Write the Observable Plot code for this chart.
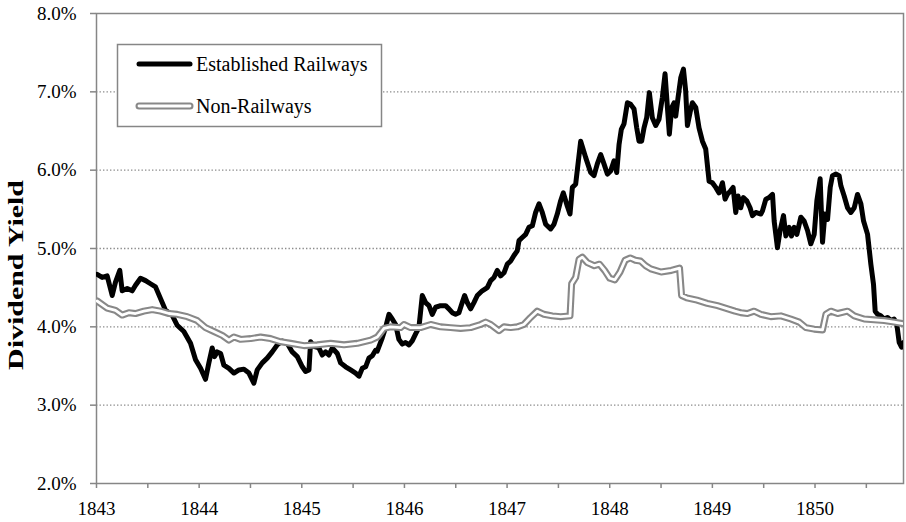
<!DOCTYPE html>
<html>
<head>
<meta charset="utf-8">
<script src="https://cdn.jsdelivr.net/npm/d3@7"></script>
<script src="https://cdn.jsdelivr.net/npm/@observablehq/plot@0.6"></script>
<style>
  html, body { margin: 0; padding: 0; background: white; }
  #chart { position: relative; width: 906px; height: 522px; }
  #chart svg, #chart svg text { font-family: "Liberation Serif", "Times New Roman", Times, serif !important; }
</style>
</head>
<body>
<div id="chart"></div>
<script>
// ---- Data (decimal years, dividend yield in %) ----
const estYears = [
  1843.006,1843.055,1843.104,1843.153,1843.185,1843.227,1843.250,1843.299,1843.348,1843.380,
  1843.429,1843.478,1843.526,1843.575,1843.624,1843.673,1843.737,1843.786,1843.851,1843.916,
  1843.965,1844.014,1844.062,1844.095,1844.127,1844.150,1844.176,1844.209,1844.241,1844.290,
  1844.339,1844.387,1844.436,1844.485,1844.533,1844.566,1844.615,1844.663,1844.712,1844.761,
  1844.810,1844.858,1844.907,1844.956,1845.005,1845.037,1845.070,1845.086,1845.118,1845.167,
  1845.199,1845.232,1845.264,1845.297,1845.346,1845.378,1845.427,1845.476,1845.524,1845.557,
  1845.589,1845.622,1845.654,1845.687,1845.719,
  1845.735,1845.784,1845.816,1845.849,1845.881,1845.914,1845.946,1845.979,1846.011,1846.044,
  1846.076,1846.109,1846.141,1846.174,1846.206,1846.239,1846.271,1846.304,1846.352,1846.401,
  1846.433,1846.466,1846.498,1846.531,1846.563,1846.586,1846.612,1846.645,1846.677,1846.710,
  1846.758,1846.807,1846.840,1846.872,1846.905,1846.937,1846.970,1847.002,1847.035,1847.067,
  1847.099,1847.116,1847.148,1847.181,1847.213,1847.246,1847.278,1847.311,1847.343,1847.376,
  1847.424,1847.457,1847.489,1847.522,1847.548,1847.587,1847.613,
  1847.636,1847.668,1847.717,1847.766,1847.814,1847.847,1847.879,1847.912,1847.944,1847.977,
  1848.009,1848.042,1848.068,1848.091,1848.113,1848.139,1848.172,1848.204,1848.237,1848.263,
  1848.285,1848.311,1848.334,1848.360,1848.386,1848.415,1848.448,1848.480,1848.513,1848.539,
  1848.562,1848.581,1848.604,1848.627,1848.643,1848.666,1848.692,1848.718,1848.740,1848.757,
  1848.783,1848.805,1848.838,1848.870,1848.903,1848.935,1848.968,1849.000,1849.033,1849.065,
  1849.098,1849.124,1849.146,1849.179,1849.202,1849.228,1849.250,1849.276,1849.302,1849.335,
  1849.367,1849.390,1849.423,1849.472,
  1849.488,1849.521,1849.553,1849.586,1849.602,1849.634,1849.660,1849.693,1849.716,1849.748,
  1849.771,1849.797,1849.823,1849.862,1849.894,1849.927,1849.959,1849.992,1850.018,1850.050,
  1850.073,1850.096,1850.122,1850.148,1850.170,1850.203,1850.235,1850.252,1850.284,1850.317,
  1850.349,1850.382,1850.414,1850.447,1850.473,1850.512,1850.544,1850.570,1850.586,1850.609,
  1850.641,1850.674,1850.706,1850.739,1850.771,1850.797,1850.820,1850.843,1850.862
];
const estValues = [
  4.67,4.63,4.65,4.40,4.57,4.72,4.46,4.49,4.46,4.53,
  4.62,4.59,4.55,4.51,4.36,4.21,4.15,4.02,3.94,3.79,
  3.58,3.47,3.33,3.54,3.73,3.62,3.68,3.66,3.51,3.47,
  3.41,3.45,3.46,3.41,3.28,3.45,3.54,3.60,3.68,3.77,
  3.82,3.79,3.68,3.62,3.49,3.43,3.45,3.81,3.75,3.73,
  3.64,3.68,3.64,3.73,3.66,3.54,3.49,3.45,3.41,3.37,
  3.47,3.49,3.60,3.63,3.70,
  3.69,3.86,3.99,4.16,4.10,4.03,3.84,3.78,3.80,3.77,
  3.82,3.91,3.99,4.40,4.31,4.27,4.16,4.25,4.27,4.27,
  4.23,4.18,4.16,4.18,4.31,4.40,4.31,4.23,4.31,4.40,
  4.46,4.50,4.59,4.63,4.72,4.65,4.69,4.80,4.84,4.91,
  4.97,5.10,5.14,5.18,5.27,5.29,5.46,5.57,5.46,5.31,
  5.25,5.31,5.44,5.61,5.71,5.54,5.44,
  5.78,5.82,6.37,6.16,5.97,5.93,6.08,6.20,6.08,5.95,
  5.99,6.12,5.97,6.33,6.52,6.59,6.86,6.84,6.78,6.54,
  6.37,6.37,6.54,6.67,6.99,6.67,6.57,6.65,6.93,7.23,
  6.80,6.46,6.80,6.86,6.69,6.93,7.18,7.29,7.01,6.57,
  6.74,6.86,6.80,6.54,6.37,6.27,5.86,5.84,5.78,5.71,
  5.84,5.63,5.69,5.74,5.78,5.46,5.67,5.52,5.65,5.61,
  5.52,5.42,5.46,5.44,
  5.48,5.63,5.65,5.69,5.35,5.01,5.23,5.42,5.16,5.27,
  5.16,5.27,5.18,5.40,5.35,5.23,5.06,5.18,5.61,5.89,
  5.08,5.44,5.37,5.78,5.93,5.95,5.93,5.80,5.67,5.52,
  5.46,5.52,5.69,5.57,5.35,5.18,4.80,4.54,4.20,4.16,
  4.14,4.10,4.12,4.08,4.10,4.03,3.80,3.74,3.80
];

const nonYears = [
  1843.006,1843.104,1843.185,1843.250,1843.315,1843.380,1843.461,1843.543,1843.624,1843.705,
  1843.786,1843.884,1843.981,1844.062,1844.144,1844.225,1844.290,1844.339,1844.404,1844.501,
  1844.598,1844.696,1844.793,1844.891,1845.021,1845.151,1845.281,1845.411,1845.541,1845.671,
  1845.736,1845.801,1845.865,1845.962,1845.995,1846.060,1846.157,1846.255,1846.352,1846.450,
  1846.547,1846.645,1846.742,1846.791,1846.840,1846.921,1846.970,1847.035,1847.099,1847.164,
  1847.229,1847.294,1847.359,1847.441,1847.522,1847.613,1847.629,1847.668,1847.701,1847.733,
  1847.782,1847.850,1847.900,1847.950,1848.000,1848.050,1848.100,1848.150,1848.200,1848.250,
  1848.300,1848.350,1848.400,1848.500,1848.600,1848.680,1848.700,1848.750,1848.850,1848.950,
  1849.050,1849.150,1849.220,1849.277,1849.342,1849.407,1849.472,1849.569,1849.667,1849.764,
  1849.846,1849.911,1849.992,1850.073,1850.106,1850.154,1850.219,1850.317,1850.382,1850.479,
  1850.577,1850.674,1850.771,1850.862
];
const nonValues = [
  4.33,4.24,4.21,4.15,4.18,4.17,4.20,4.22,4.20,4.17,
  4.16,4.13,4.08,3.99,3.94,3.89,3.83,3.87,3.84,3.85,
  3.87,3.85,3.81,3.79,3.76,3.77,3.79,3.77,3.79,3.83,
  3.87,3.98,4.00,3.99,4.03,3.99,3.99,4.03,4.00,3.99,
  3.98,3.99,4.03,4.06,4.03,3.95,4.00,3.99,4.00,4.03,
  4.12,4.20,4.16,4.14,4.13,4.14,4.55,4.63,4.86,4.89,
  4.82,4.78,4.80,4.72,4.62,4.60,4.70,4.85,4.88,4.85,
  4.84,4.78,4.74,4.70,4.72,4.75,4.40,4.37,4.34,4.30,
  4.27,4.23,4.20,4.18,4.17,4.20,4.16,4.13,4.14,4.10,
  4.06,3.99,3.97,3.96,4.16,4.20,4.17,4.20,4.14,4.10,
  4.09,4.08,4.06,4.04
];

const yTicks = [2, 3, 4, 5, 6, 7, 8];
const gridTicks = [3, 4, 5, 6, 7];
const yearTicks = [1843, 1844, 1845, 1846, 1847, 1848, 1849, 1850];
const halfYearTicks = [1843.5, 1844.5, 1845.5, 1846.5, 1847.5, 1848.5, 1849.5, 1850.5];
const seriesNames = ["Established Railways", "Non-Railways"];
const yTitle = "Dividend Yield";

// ---- Build tables ----
const estData = estYears.map((x, i) => ({x, y: estValues[i]}));
const nonData = nonYears.map((x, i) => ({x, y: nonValues[i]}));

const GRAY = "#868686";
const LINEGRAY = "#888888";
const FONT = "Liberation Serif, Times New Roman, Times, serif";

const chart = Plot.plot({
  width: 906,
  height: 522,
  marginLeft: 96,
  marginRight: 3,
  marginTop: 13,
  marginBottom: 39,
  style: {fontFamily: FONT, fontSize: "19px", color: "black", background: "white", overflow: "visible"},
  x: {type: "linear", domain: [1843, 1850.862], label: null},
  y: {domain: [2, 8], label: null},
  marks: [
    Plot.ruleY(gridTicks, {stroke: "#8c8c8c", strokeWidth: 1.3, strokeDasharray: "1.4,2.1"}),
    Plot.frame({stroke: GRAY, strokeWidth: 1.5}),
    Plot.line(estData, {x: "x", y: "y", stroke: "black", strokeWidth: 5, strokeLinejoin: "round", strokeLinecap: "round", clip: true}),
    Plot.line(nonData, {x: "x", y: "y", stroke: LINEGRAY, strokeWidth: 7, strokeLinejoin: "round", strokeLinecap: "round", clip: true}),
    Plot.line(nonData, {x: "x", y: "y", stroke: "white", strokeWidth: 2.8, strokeLinejoin: "round", strokeLinecap: "round", clip: true}),
    Plot.axisY(yTicks, {tickSize: 6, tickPadding: 14, stroke: GRAY, strokeWidth: 1.5, fill: "black", fontSize: 19, tickFormat: d => d.toFixed(1) + "%", label: null}),
    Plot.axisX(yearTicks, {tickSize: 5, tickPadding: 13, stroke: GRAY, strokeWidth: 1.5, fill: "black", fontSize: 19, tickFormat: d => String(d), label: null}),
    Plot.axisX(halfYearTicks, {tickSize: 5, stroke: GRAY, strokeWidth: 1.5, tickFormat: () => "", label: null})
  ]
});

document.getElementById("chart").appendChild(chart);

// ---- Y-axis title and legend (added into the same SVG) ----
const svg = d3.select(chart);
svg.append("text")
  .attr("transform", "translate(23,275) rotate(-90)")
  .attr("text-anchor", "middle")
  .attr("font-weight", "bold")
  .attr("font-size", 20)
  .attr("textLength", 190)
  .attr("lengthAdjust", "spacingAndGlyphs")
  .attr("fill", "black")
  .text(yTitle);

const lg = svg.append("g").attr("font-size", 20).attr("text-anchor", "start");
lg.append("rect")
  .attr("x", 117.5).attr("y", 44.5).attr("width", 264).attr("height", 82)
  .attr("fill", "white").attr("stroke", GRAY).attr("stroke-width", 1.5);
// Established sample
lg.append("line").attr("x1", 139).attr("x2", 190).attr("y1", 64).attr("y2", 64)
  .attr("stroke", "black").attr("stroke-width", 5).attr("stroke-linecap", "round");
lg.append("text").attr("x", 196).attr("y", 64).attr("dy", "0.35em").attr("text-anchor", "start").attr("fill", "black").text(seriesNames[0]);
// Non-railways sample
lg.append("line").attr("x1", 139).attr("x2", 190).attr("y1", 106).attr("y2", 106)
  .attr("stroke", LINEGRAY).attr("stroke-width", 7).attr("stroke-linecap", "round");
lg.append("line").attr("x1", 139).attr("x2", 190).attr("y1", 106).attr("y2", 106)
  .attr("stroke", "white").attr("stroke-width", 2.8).attr("stroke-linecap", "round");
lg.append("text").attr("x", 196).attr("y", 106).attr("dy", "0.35em").attr("text-anchor", "start").attr("fill", "black").text(seriesNames[1]);
</script>
</body>
</html>
